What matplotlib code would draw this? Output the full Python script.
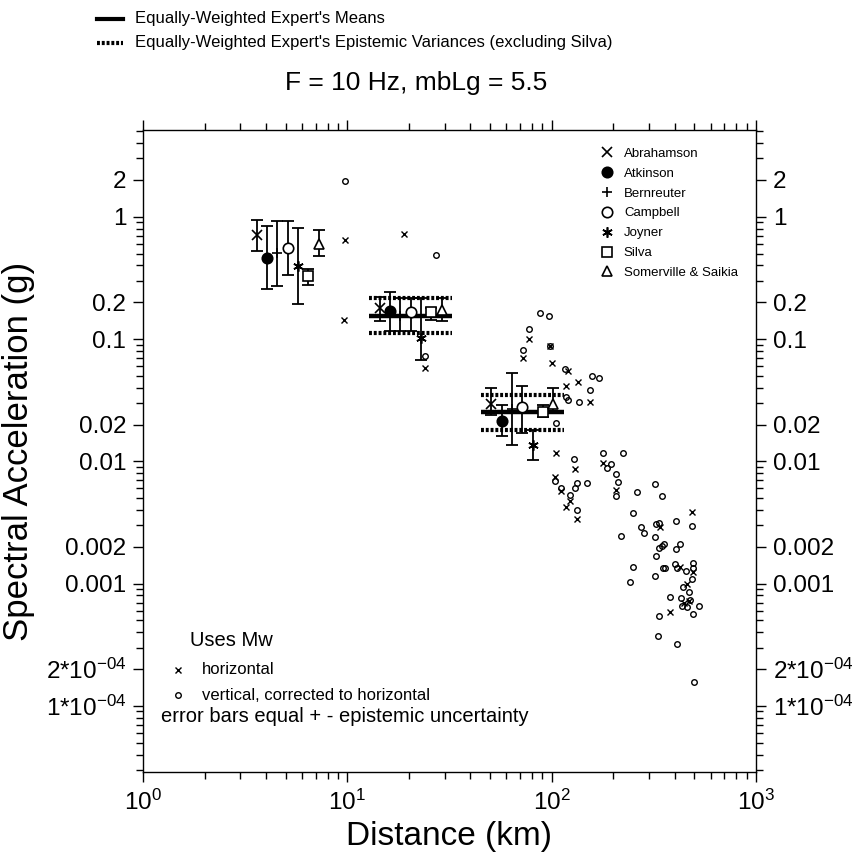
import numpy as np
import matplotlib
matplotlib.use("Agg")
import matplotlib.pyplot as plt
from matplotlib.lines import Line2D

plt.rcParams['font.family'] = 'Liberation Sans'
plt.rcParams['mathtext.fontset'] = 'custom'
plt.rcParams['mathtext.rm'] = 'Liberation Sans'

# expert estimates at three distance bins: (median, low, high)
experts = ['Abrahamson', 'Atkinson', 'Bernreuter', 'Campbell', 'Joyner', 'Silva', 'Somerville & Saikia']
bin_dist = [5.1, 20.4, 71.8]
expert_med = [
    [0.708, 0.178, 0.0294],
    [0.459, 0.170, 0.0215],
    [0.505, 0.155, 0.0266],
    [0.555, 0.167, 0.0279],
    [0.395, 0.101, 0.0136],
    [0.327, 0.167, 0.0255],
    [0.598, 0.173, 0.0294],
]
expert_lo = [
    [0.524, 0.140, 0.0237],
    [0.256, 0.116, 0.0162],
    [0.271, 0.116, 0.0135],
    [0.334, 0.116, 0.0170],
    [0.193, 0.067, 0.0103],
    [0.276, 0.143, 0.0232],
    [0.477, 0.140, 0.0252],
]
expert_hi = [
    [0.940, 0.222, 0.0401],
    [0.839, 0.244, 0.0289],
    [0.922, 0.218, 0.0524],
    [0.922, 0.218, 0.0412],
    [0.810, 0.218, 0.0180],
    [0.374, 0.180, 0.0289],
    [0.778, 0.215, 0.0401],
]

# equally weighted means / epistemic bounds (bins 2 and 3)
mean_bins = [20.4, 72.0]
mean_val = [0.155, 0.0252]
mean_lo = [0.111, 0.0180]
mean_hi = [0.218, 0.0348]

# recorded data, horizontal components
h_dist = [9.78, 19.0, 9.67, 24.1, 77.8, 72.1, 98.1, 100, 120.7, 117.1, 135.2, 154.1,
          104.6, 129.7, 103.8, 110.7, 123, 117.1, 132.6, 179.2, 206, 338, 484, 424,
          489, 457, 379, 445, 470]
h_acc = [0.645, 0.722, 0.143, 0.0575, 0.0995, 0.0695, 0.0881, 0.0633, 0.0547, 0.0413,
         0.0448, 0.0307, 0.01175, 0.00861, 0.00748, 0.00572, 0.00473, 0.00425, 0.00337,
         0.00975, 0.00582, 0.00289, 0.00387, 0.00137, 0.00125, 0.00100, 0.000589,
         0.00069, 0.00072]

# vertical components corrected to horizontal
v_dist = [9.78, 27.1, 23.9, 87.6, 97.0, 77.8, 72.1, 98.1, 116.2, 157, 170.6, 154.1,
          118, 120.7, 136.1, 104.6, 128.6, 103.8, 110.7, 132.6, 129.7, 148.5, 123, 132.6,
          179.2, 186, 194.5, 223.6, 206, 210, 206, 263, 321, 345, 251, 218, 275, 283,
          324, 336, 405, 484, 321, 336, 345, 353, 405, 424, 324, 249, 242, 321, 349,
          359, 401, 410, 454, 489, 489, 486, 437, 471, 378, 429, 476, 432, 462, 524,
          489, 337, 330, 410, 497]
v_acc = [1.97, 0.489, 0.0726, 0.162, 0.155, 0.121, 0.0813, 0.0881, 0.0565, 0.0498,
         0.0483, 0.0383, 0.0334, 0.0317, 0.0307, 0.0207, 0.01045, 0.00694, 0.00608,
         0.00661, 0.00601, 0.00668, 0.0053, 0.0040, 0.01175, 0.00877, 0.00944, 0.0116,
         0.00783, 0.00681, 0.0052, 0.00564, 0.00649, 0.00523, 0.0038, 0.00247, 0.00289,
         0.00261, 0.00307, 0.00311, 0.00325, 0.00296, 0.00239, 0.00197, 0.00203,
         0.00211, 0.00192, 0.00211, 0.00169, 0.00137, 0.00103, 0.00116, 0.00135,
         0.00133, 0.00144, 0.00135, 0.00127, 0.00148, 0.00135, 0.00109, 0.00093,
         0.00085, 0.00078, 0.00076, 0.00073, 0.00065, 0.00064, 0.00066, 0.00056,
         0.00054, 0.00037, 0.00032, 0.000157]

markers = ['x', 'o', '+', 'o', (6, 2, 0), 's', '^']
faces = ['none', 'black', 'none', 'white', 'none', 'white', 'white']

fig = plt.figure(figsize=(8.6, 8.58), dpi=100)
ax = fig.add_axes([143 / 860, 86 / 858, 613 / 860, 642 / 858])
ax.set_xscale('log')
ax.set_yscale('log')

# scatter of recordings
ax.plot(h_dist, h_acc, 'x', color='black', ms=4.5, mew=1.0, ls='none', zorder=2)
ax.plot(v_dist, v_acc, 'o', mfc='none', mec='black', ms=4, mew=1.0, ls='none', zorder=2)

# means and epistemic bounds
step = 0.0505
for d, m, lo, hi in zip(mean_bins, mean_val, mean_lo, mean_hi):
    xs = [d * 10 ** (-4 * step), d * 10 ** (4 * step)]
    ax.plot(xs, [m, m], color='black', lw=3.2, solid_capstyle='butt', zorder=3)
    ax.plot(xs, [lo, lo], color='black', lw=3.0, ls=(0, (0.7, 0.45)), zorder=3)
    ax.plot(xs, [hi, hi], color='black', lw=3.0, ls=(0, (0.7, 0.45)), zorder=3)

# experts with error bars
handles = []
for i, name in enumerate(experts):
    xs = [d * 10 ** (step * (i - 3)) for d in bin_dist]
    med = np.array(expert_med[i])
    lo = med - np.array(expert_lo[i])
    hi = np.array(expert_hi[i]) - med
    ax.errorbar(xs, med, yerr=[lo, hi], fmt='none', ecolor='black', elinewidth=1.3,
                capsize=4, capthick=1.3, zorder=4)
    ax.plot(xs, med, ls='none', marker=markers[i], mfc=faces[i], mec='black',
            ms=7.5 if i != 5 else 6.5, mew=1.2, zorder=5)
    handles.append(Line2D([], [], ls='none', marker=markers[i],
                          mfc=faces[i] if faces[i] != 'white' else 'none',
                          mec='black', ms=7.5, mew=1.2))

ax.legend(handles, experts, loc='upper left', bbox_to_anchor=(0.735, 0.985), frameon=False,
          fontsize=9.5, handlelength=0.8, handletextpad=0.9, labelspacing=0.58,
          borderaxespad=0.2)

# axes and ticks
ax.set_xlim(1, 1000)
ax.set_ylim(2.88e-5, 5.12)
ax.set_xticks([1, 10, 100, 1000])
ax.set_xticklabels([r'$\mathregular{10^{0}}$', r'$\mathregular{10^{1}}$',
                    r'$\mathregular{10^{2}}$', r'$\mathregular{10^{3}}$'])
ax.set_xticks([k * 10 ** e for e in range(0, 3) for k in range(2, 10)], minor=True)
yt = [2, 1, 0.2, 0.1, 0.02, 0.01, 0.002, 0.001, 2e-4, 1e-4]
ytl = ['2', '1', '0.2', '0.1', '0.02', '0.01', '0.002', '0.001',
       r'2*$\mathregular{10^{-04}}$', r'1*$\mathregular{10^{-04}}$']
ax.set_yticks(yt)
ax.set_yticklabels(ytl)
ax.set_yticks([k * 10.0 ** e for e in range(-5, 1) for k in range(1, 10)
               if 2.88e-5 < k * 10.0 ** e < 5.12], minor=True)
ax.yaxis.set_minor_formatter(plt.NullFormatter())
ax.xaxis.set_minor_formatter(plt.NullFormatter())
ax.tick_params(which='both', direction='out', top=True, right=True, labelright=True,
               width=1.0, labelsize=17.5)
ax.tick_params(which='major', length=7, pad=5)
ax.tick_params(which='minor', length=5)
ax.tick_params(axis='x', pad=6)
for s in ax.spines.values():
    s.set_linewidth(1.0)

ax.set_xlabel('Distance (km)', fontsize=24, labelpad=4)
ax.set_ylabel('Spectral Acceleration (g)', fontsize=25, labelpad=8)

# annotation block
ax.text(0.077, 0.2056, 'Uses Mw', transform=ax.transAxes, fontsize=14.5, va='center')
ax.plot([0.0566], [0.1593], 'x', color='black', ms=4.5, mew=1.0, transform=ax.transAxes)
ax.text(0.0958, 0.1593, 'horizontal', transform=ax.transAxes, fontsize=12, va='center')
ax.plot([0.0566], [0.1199], 'o', mfc='none', mec='black', ms=4, mew=1.0, transform=ax.transAxes)
ax.text(0.0958, 0.1199, 'vertical, corrected to horizontal', transform=ax.transAxes,
        fontsize=12, va='center')
ax.text(0.0289, 0.0862, 'error bars equal + - epistemic uncertainty', transform=ax.transAxes,
        fontsize=14.5, va='center')

# figure legend and title
fig.add_artist(Line2D([97 / 860, 123 / 860], [1 - 19 / 858, 1 - 19 / 858], color='black', lw=3))
fig.add_artist(Line2D([97 / 860, 123 / 860], [1 - 43 / 858, 1 - 43 / 858], color='black', lw=3,
                      ls=(0, (0.7, 0.45))))
fig.text(135 / 860, 1 - 19 / 858, "Equally-Weighted Expert's Means", fontsize=12, va='center')
fig.text(135 / 860, 1 - 43 / 858, "Equally-Weighted Expert's Epistemic Variances (excluding Silva)",
         fontsize=12, va='center')
fig.text(285 / 860, 1 - 83 / 858, 'F = 10 Hz, mbLg = 5.5', fontsize=19, va='center')

fig.savefig('out.png', dpi=100)
